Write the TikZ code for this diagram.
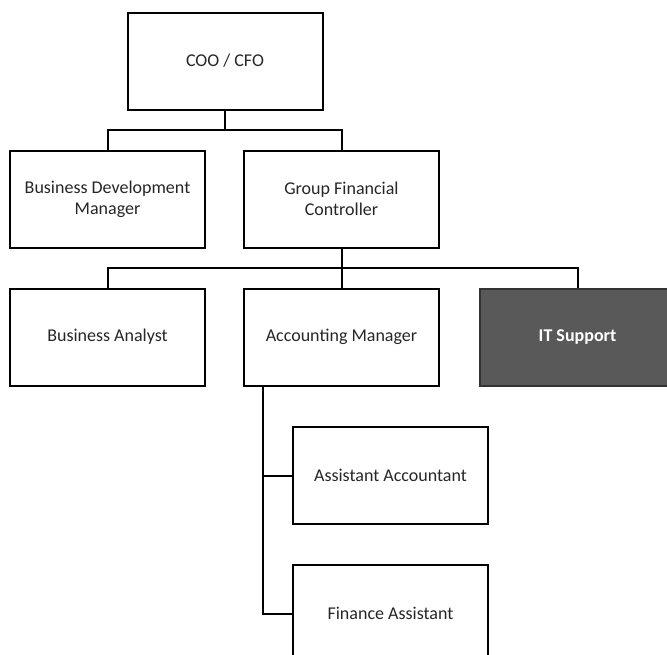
\documentclass[tikz,border=0pt]{standalone}
\usepackage{fontspec}
\setmainfont{Carlito}
\usepackage{xcolor}
\usepackage{tikz}
\usetikzlibrary{positioning}
\definecolor{itgray}{HTML}{595959}
\definecolor{textgray}{HTML}{262626}
\tikzstyle{post} = [draw=black, line width=2pt, rectangle, minimum width=195pt, minimum height=97pt, align=center, text=textgray, font=\fontsize{18}{21}\selectfont]
\tikzstyle{link} = [line width=2pt]

\begin{document}
\begin{tikzpicture}[x=1pt, y=-1pt]
    \clip (0,0) rectangle (667,654);
    % Top
    \node[post] (coo) at (225, 61) {COO / CFO};
    
    % Second level
    \node[post] (bdm) at (107.5, 199) {Business Development\\Manager};
    \node[post] (gfc) at (341.5, 199) {Group Financial\\Controller};
    
    % Third level
    \node[post] (ba) at (107.5, 337) {Business Analyst};
    \node[post] (am) at (341.5, 337) {Accounting Manager};
    \node[post, fill=itgray, draw=black!80, text=white, font=\fontsize{18}{21}\selectfont\bfseries] (it) at (577.5, 337) {IT Support};
    
    % Under accounting manager
    \node[post] (aa) at (390.5, 475.5) {Assistant Accountant};
    \node[post] (fa) at (390.5, 613.5) {Finance Assistant};
    
    % Branch points
    \coordinate (top split) at (225, 130);
    \coordinate (mid split) at (341.5, 268);
    
    % Connectors
    \draw[link] (coo.south) -- (top split) -| (bdm.north);
    \draw[link] (top split) -| (gfc.north);
    \draw[link] (gfc.south) -- (mid split) -| (ba.north);
    \draw[link] (mid split) -- (am.north);
    \draw[link] (mid split) -| (it.north);
    \draw[link] ([xshift=20pt]am.south west) |- (aa.west);
    \draw[link] ([xshift=20pt]am.south west) |- (fa.west);
\end{tikzpicture}
\end{document}
